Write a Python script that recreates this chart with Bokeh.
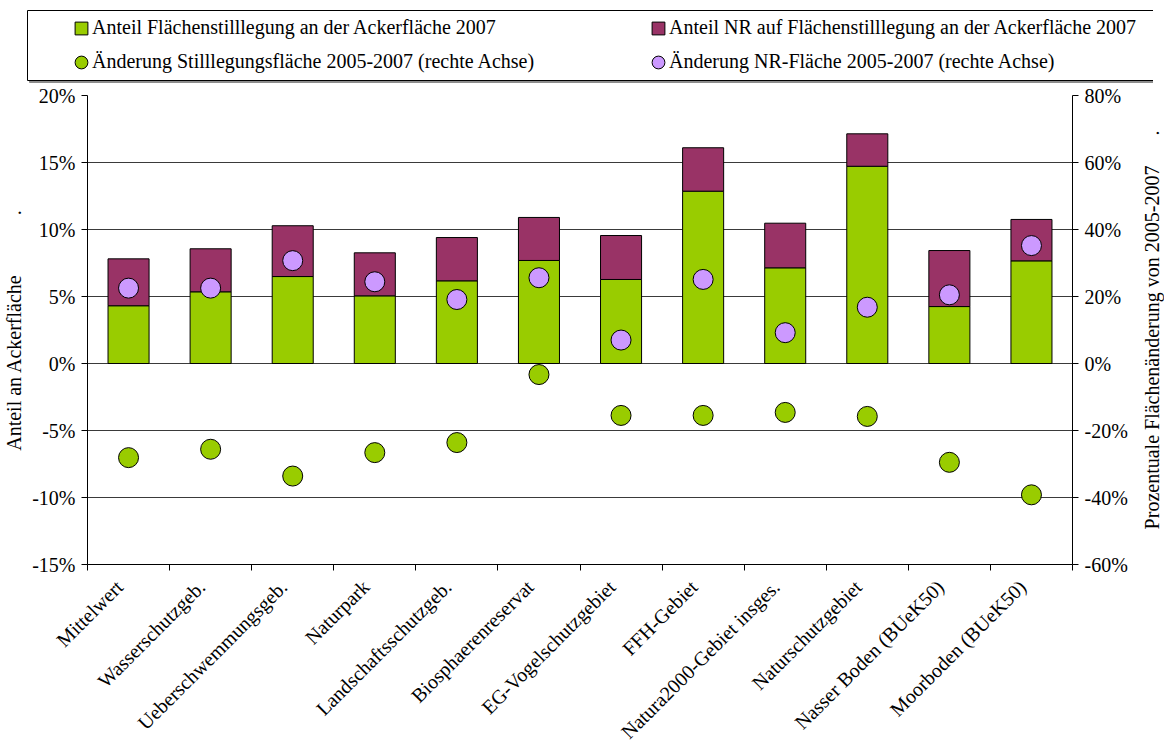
import math
from bokeh.plotting import figure
from bokeh.layouts import column, row
from bokeh.models import (Range1d, LinearAxis, FixedTicker, PrintfTickFormatter,
                          CustomJSTickFormatter, Legend, LegendItem, ColumnDataSource,
                          BoxAnnotation, Title)
from bokeh.embed import file_html
from bokeh.resources import INLINE

# ---------------- data ----------------
categories = ["Mittelwert", "Wasserschutzgeb.", "Ueberschwemmungsgeb.", "Naturpark",
              "Landschaftsschutzgeb.", "Biosphaerenreservat", "EG-Vogelschutzgebiet",
              "FFH-Gebiet", "Natura2000-Gebiet insges.", "Naturschutzgebiet",
              "Nasser Boden (BUeK50)", "Moorboden (BUeK50)"]
# share of set-aside land in arable land 2007 (%)
stilllegung_anteil = [4.31, 5.35, 6.49, 5.05, 6.17, 7.69, 6.27, 12.86, 7.14, 14.72, 4.25, 7.66]
# share of NR on set-aside land in arable land 2007 (%) (stacked on top)
nr_anteil = [3.50, 3.21, 3.79, 3.21, 3.23, 3.21, 3.28, 3.24, 3.33, 2.42, 4.18, 3.09]
# change of set-aside area 2005-2007 (%), right axis
aenderung_stilllegung = [-28.1, -25.6, -33.6, -26.6, -23.6, -3.3, -15.5, -15.5, -14.6, -15.8, -29.5, -39.2]
# change of NR area 2005-2007 (%), right axis
aenderung_nr = [22.5, 22.5, 30.7, 24.4, 19.1, 25.6, 7.0, 25.1, 9.2, 16.8, 20.5, 35.2]

left_ticks = [-15, -10, -5, 0, 5, 10, 15, 20]
right_ticks = [-60, -40, -20, 0, 20, 40, 60, 80]

legend_labels = ["Anteil Flächenstilllegung an der Ackerfläche 2007",
                 "Änderung Stilllegungsfläche 2005-2007 (rechte Achse)",
                 "Anteil NR auf Flächenstilllegung an der Ackerfläche 2007",
                 "Änderung NR-Fläche 2005-2007 (rechte Achse)"]
left_title = "Anteil an Ackerfläche" + "\u00a0" * 12 + "."
right_title = "Prozentuale Flächenänderung von 2005-2007" + "\u00a0" * 6 + "."

# ---------------- styling ----------------
FONT = "Liberation Serif"
FS = "20px"
GREEN = "#99CC00"
MAROON = "#993366"
PURPLE = "#CC99FF"
TOTAL_W = 1153
LEG_H = 84
TOP_B = 11
BOT_B = 170
FRAME_W = 985
FRAME_H = 469
LABEL_SHIFT = -0.11   # small horizontal nudge of the category labels

idx = list(range(len(categories)))
src = ColumnDataSource(dict(
    x=idx,
    green=stilllegung_anteil,
    total=[a + b for a, b in zip(stilllegung_anteil, nr_anteil)],
    ch_st=aenderung_stilllegung,
    ch_nr=aenderung_nr,
))


def add_series(fig):
    rg = fig.vbar(x="x", width=0.5, bottom=0, top="green", source=src,
                  fill_color=GREEN, line_color="black", line_width=1)
    rm = fig.vbar(x="x", width=0.5, bottom="green", top="total", source=src,
                  fill_color=MAROON, line_color="black", line_width=1)
    rs = fig.ellipse(x="x", y="ch_st", width=20, height=20, width_units="screen",
                     height_units="screen", source=src, y_range_name="right",
                     fill_color=GREEN, line_color="black", line_width=1)
    rn = fig.ellipse(x="x", y="ch_nr", width=20, height=20, width_units="screen",
                     height_units="screen", source=src, y_range_name="right",
                     fill_color=PURPLE, line_color="black", line_width=1)
    return rg, rm, rs, rn


# ---------------- main chart ----------------
p = figure(frame_width=FRAME_W, frame_height=FRAME_H,
           x_range=Range1d(-0.5, len(categories) - 0.5),
           y_range=Range1d(-15, 20),
           output_backend="svg", toolbar_location=None,
           min_border_left=80, min_border_right=65, min_border_top=TOP_B,
           min_border_bottom=BOT_B)
p.extra_y_ranges = {"right": Range1d(-60, 80)}
p.outline_line_color = None
p.background_fill_color = "white"
p.border_fill_color = "white"

p.xgrid.visible = False
p.ygrid.ticker = FixedTicker(ticks=left_ticks)
p.ygrid.grid_line_color = "#3a3a3a"
p.ygrid.grid_line_width = 1

add_series(p)


def style_axis(ax):
    ax.axis_line_color = "black"
    ax.major_tick_line_color = "black"
    ax.minor_tick_line_color = "black"
    ax.major_label_text_font = FONT
    ax.major_label_text_font_size = FS
    ax.major_label_text_color = "black"
    ax.axis_label_text_font = FONT
    ax.axis_label_text_font_size = FS
    ax.axis_label_text_font_style = "normal"
    ax.axis_label_text_color = "black"


ly = p.yaxis[0]
ly.ticker = FixedTicker(ticks=left_ticks)
ly.formatter = PrintfTickFormatter(format="%d%%")
ly.major_tick_in = 0
ly.major_tick_out = 6
ly.major_label_standoff = 6
ly.axis_label = left_title
ly.axis_label_standoff = 4
style_axis(ly)

ry = LinearAxis(y_range_name="right", ticker=FixedTicker(ticks=right_ticks),
                formatter=PrintfTickFormatter(format="%d%%"))
ry.major_tick_in = 0
ry.major_tick_out = 6
ry.major_label_standoff = 6
style_axis(ry)
p.add_layout(ry, "right")

bx = p.xaxis[0]
bx.ticker = FixedTicker(ticks=[i + LABEL_SHIFT for i in idx],
                        minor_ticks=[i - 0.5 for i in range(len(categories) + 1)])
bx.formatter = CustomJSTickFormatter(
    args=dict(names=categories),
    code="const i = Math.round(tick); return (i >= 0 && i < names.length) ? names[i] : '';")
bx.major_tick_in = 0
bx.major_tick_out = 0
bx.minor_tick_in = 0
bx.minor_tick_out = 6
bx.major_label_orientation = math.pi / 4
bx.major_label_standoff = 13
style_axis(bx)

# ---------------- right-hand axis title (reads bottom-to-top) ----------------
tf = figure(frame_width=1, frame_height=FRAME_H, title=None,
            x_axis_type=None, y_axis_type=None,
            output_backend="svg", toolbar_location=None,
            min_border_left=0, min_border_right=0, min_border_top=TOP_B,
            min_border_bottom=BOT_B)
tf.outline_line_color = None
tf.grid.visible = False
tf.add_layout(Title(text=right_title, align="center", text_font=FONT,
                    text_font_size=FS, text_font_style="normal",
                    text_color="black", standoff=2), "left")

# ---------------- legend strip ----------------
lf = figure(frame_width=TOTAL_W, frame_height=LEG_H,
            x_range=Range1d(1000, 1001), y_range=Range1d(1000, 1001),
            x_axis_type=None, y_axis_type=None, title=None,
            output_backend="svg", toolbar_location=None,
            min_border_left=0, min_border_right=0,
            min_border_top=0, min_border_bottom=0)
lf.extra_y_ranges = {"right": Range1d(1000, 1001)}
lf.outline_line_color = None
lf.grid.visible = False
lg, lm, ls, ln = add_series(lf)

box_kw = dict(left_units="screen", right_units="screen",
              top_units="screen", bottom_units="screen")
lf.add_layout(BoxAnnotation(left=29, right=3000, bottom=2, top=72,
                            fill_color="#8c8c8c", fill_alpha=1,
                            line_color="#8c8c8c", line_alpha=1, **box_kw))
lf.add_layout(BoxAnnotation(left=27, right=3000, bottom=4, top=74,
                            fill_color="white", fill_alpha=1,
                            line_color="black", line_alpha=1, line_width=1, **box_kw))

legend = Legend(items=[
    LegendItem(label=legend_labels[0], renderers=[lg]),
    LegendItem(label=legend_labels[1], renderers=[ls]),
    LegendItem(label=legend_labels[2], renderers=[lm]),
    LegendItem(label=legend_labels[3], renderers=[ln]),
], location=(73, 11), orientation="vertical", ncols=2, nrows=2)
legend.label_text_font = FONT
legend.label_text_font_size = FS
legend.label_text_color = "black"
legend.glyph_width = 16
legend.glyph_height = 16
legend.label_height = 22
legend.label_width = 547
legend.label_standoff = 3
legend.spacing = 11
legend.padding = 6
legend.margin = 0
legend.border_line_color = None
legend.background_fill_alpha = 0
lf.add_layout(legend, "center")

layout = column(lf, row(p, tf, spacing=0), spacing=0)
open("out.html", "w").write(file_html(layout, INLINE))
